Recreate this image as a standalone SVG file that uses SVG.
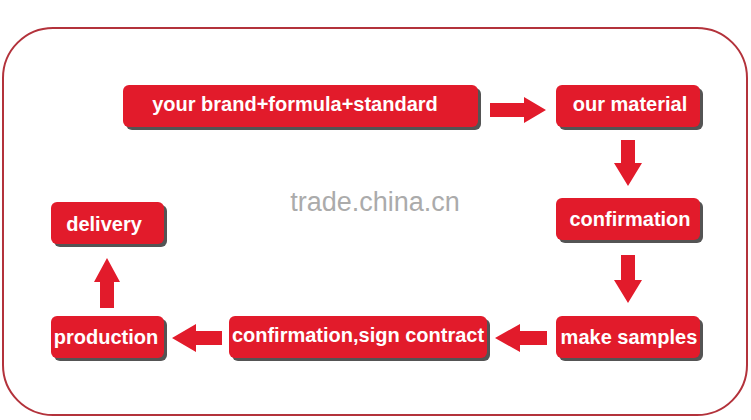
<svg xmlns="http://www.w3.org/2000/svg" width="751" height="420" viewBox="0 0 751 420">
<defs>
<style>
.box{fill:#e21b2b}
.sh{fill:#545454}
.t{fill:#fff;font-family:"Liberation Sans",Arial,sans-serif;font-weight:bold;font-size:20px;text-anchor:middle}
.arr{fill:#e21b2b}
.wm{fill:#ababab;font-family:"Liberation Sans",Arial,sans-serif;font-size:27px;text-anchor:middle}
</style>
</defs>
<rect x="0" y="0" width="751" height="420" fill="#fff"/>
<rect x="3" y="28" width="744" height="387" rx="50" ry="50" fill="none" stroke="#b3323b" stroke-width="2"/>
<text class="wm" x="375" y="211">trade.china.cn</text>
<g id="n1"><rect class="sh" x="126" y="88" width="355" height="42" rx="6"/><rect class="box" x="123" y="85" width="355" height="42" rx="6"/><text class="t" x="295" y="111">your brand+formula+standard</text></g>
<g id="n2"><rect class="sh" x="559" y="88" width="144" height="42" rx="6"/><rect class="box" x="556" y="85" width="144" height="42" rx="6"/><text class="t" x="630" y="111">our material</text></g>
<g id="n3"><rect class="sh" x="559" y="201" width="144" height="42" rx="6"/><rect class="box" x="556" y="198" width="144" height="42" rx="6"/><text class="t" x="630" y="226">confirmation</text></g>
<g id="n4"><rect class="sh" x="559" y="319" width="144" height="42" rx="6"/><rect class="box" x="556" y="316" width="144" height="42" rx="6"/><text class="t" x="629" y="344">make samples</text></g>
<g id="n5"><rect class="sh" x="232" y="319" width="258" height="42" rx="6"/><rect class="box" x="229" y="316" width="258" height="42" rx="6"/><text class="t" x="358" y="342">confirmation,sign contract</text></g>
<g id="n6"><rect class="sh" x="54" y="319" width="113" height="42" rx="6"/><rect class="box" x="51" y="316" width="113" height="42" rx="6"/><text class="t" x="106" y="344">production</text></g>
<g id="n7"><rect class="sh" x="54" y="205" width="113" height="42" rx="6"/><rect class="box" x="51" y="202" width="113" height="42" rx="6"/><text class="t" x="104" y="231">delivery</text></g>
<g id="connectors">
<polygon class="arr" points="490,103 524,103 524,97 546,110 524,123 524,117 490,117"/>
<polygon class="arr" points="621,140 635,140 635,163 642,163 628,186 614,163 621,163"/>
<polygon class="arr" points="621,255 635,255 635,280 642,280 628,303 614,280 621,280"/>
<polygon class="arr" points="547,331 520,331 520,324 495,338 520,352 520,345 547,345"/>
<polygon class="arr" points="222,331 196,331 196,324 172,338 196,352 196,345 222,345"/>
<polygon class="arr" points="100,308 114,308 114,282 120,282 107,258 94,282 100,282"/>
</g>
</svg>
